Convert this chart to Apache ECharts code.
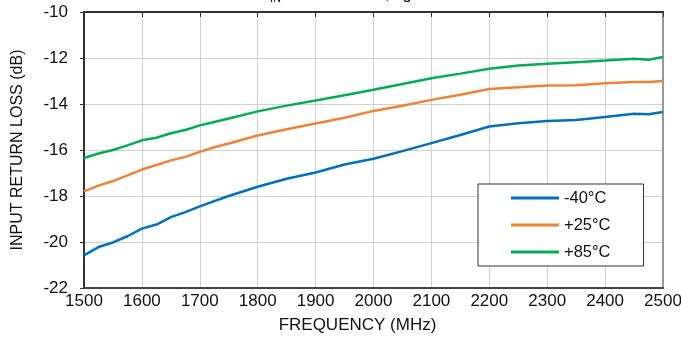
<!DOCTYPE html>
<html><head><meta charset="utf-8">
<script src="https://cdn.jsdelivr.net/npm/echarts@6/dist/echarts.min.js"></script>
<style>html,body{margin:0;padding:0;background:#fff}#c{width:681px;height:340px}</style>
</head><body><div id="c"></div>
<script>
const freq = [1500,1525,1550,1575,1600,1625,1650,1675,1700,1725,1750,1800,1850,1900,1950,2000,2050,2100,2150,2200,2250,2300,2350,2400,2450,2475,2500];
const seriesNames = ['-40°C','+25°C','+85°C'];
const m40 = [-20.58,-20.22,-20.02,-19.75,-19.42,-19.24,-18.92,-18.7,-18.45,-18.22,-18.0,-17.6,-17.25,-16.98,-16.63,-16.38,-16.05,-15.7,-15.35,-14.98,-14.84,-14.74,-14.7,-14.57,-14.42,-14.45,-14.35];
const p25 = [-17.8,-17.55,-17.35,-17.1,-16.85,-16.65,-16.45,-16.3,-16.08,-15.88,-15.72,-15.37,-15.1,-14.85,-14.6,-14.3,-14.08,-13.82,-13.6,-13.35,-13.27,-13.2,-13.18,-13.1,-13.04,-13.04,-13.0];
const p85 = [-16.35,-16.15,-16.0,-15.8,-15.58,-15.47,-15.27,-15.13,-14.93,-14.78,-14.63,-14.32,-14.07,-13.85,-13.62,-13.38,-13.13,-12.88,-12.68,-12.47,-12.33,-12.25,-12.18,-12.11,-12.03,-12.08,-11.96];
const colors = ['#0070C0','#F08232','#00B050'];
const values = [m40,p25,p85];

const chart = echarts.init(document.getElementById('c'), null, {renderer:'canvas'});
const font = '"Liberation Sans", Arial, sans-serif';
chart.setOption({
  animation:false,
  textStyle:{fontFamily:font},
  grid:{left:84,right:18,top:12,bottom:52,containLabel:false,outerBoundsMode:'none'},
  xAxis:[{
    type:'value',min:1500,max:2500,interval:100,position:'bottom',
    name:'FREQUENCY (MHz)',nameLocation:'middle',nameGap:29,
    nameTextStyle:{fontSize:17,color:'#111',fontFamily:font,padding:[0,32,0,0]},
    axisLine:{show:true,lineStyle:{color:'#444',width:2}},
    axisTick:{show:false},
    axisLabel:{fontSize:17,color:'#111',margin:5,fontFamily:font,formatter:v=>String(v),hideOverlap:false},
    splitLine:{show:true,lineStyle:{color:'#d0d0d0',width:1}}
  },{
    type:'value',min:1500,max:2500,interval:100,position:'top',
    axisLine:{show:true,lineStyle:{color:'#333',width:2}},
    axisTick:{show:true,inside:true,length:5,lineStyle:{color:'#333',width:1}},
    axisLabel:{show:false},splitLine:{show:false}
  }],
  yAxis:[{
    type:'value',min:-22,max:-10,interval:2,position:'left',
    name:'INPUT RETURN LOSS (dB)',nameLocation:'middle',nameGap:58,
    nameTextStyle:{fontSize:16,color:'#111',fontFamily:font},
    axisLine:{show:true,lineStyle:{color:'#333',width:2}},
    axisTick:{show:true,length:4,lineStyle:{color:'#333',width:1}},
    axisLabel:{fontSize:17,color:'#111',margin:16,fontFamily:font},
    splitLine:{show:true,lineStyle:{color:'#d0d0d0',width:1}}
  },{
    type:'value',min:-22,max:-10,interval:2,position:'right',
    axisLine:{show:true,lineStyle:{color:'#999',width:2}},
    axisTick:{show:false},axisLabel:{show:false},splitLine:{show:false}
  }],
  legend:{
    orient:'vertical',left:478,top:184,
    data:seriesNames.map(n=>({name:n,icon:'rect'})),
    itemWidth:48,itemHeight:3,itemGap:9,
    padding:[5,33,5,33],
    borderColor:'#333',borderWidth:1,backgroundColor:'#fff',
    textStyle:{fontSize:16.5,lineHeight:18,color:'#111',fontFamily:font}
  },
  graphic:[
    {type:'text',left:270,top:-7,style:{text:'IN',font:'11px '+font,fill:'#111'}},
    {type:'text',left:385,top:-13,style:{text:',   g',font:'16px '+font,fill:'#111'}}
  ],
  series: values.map((v,i)=>({
    name:seriesNames[i],type:'line',symbol:'none',showSymbol:false,
    data:freq.map((f,j)=>[f,v[j]]),
    lineStyle:{color:colors[i],width:2.5},
    itemStyle:{color:colors[i]},
    z:3
  }))
});
</script></body></html>
